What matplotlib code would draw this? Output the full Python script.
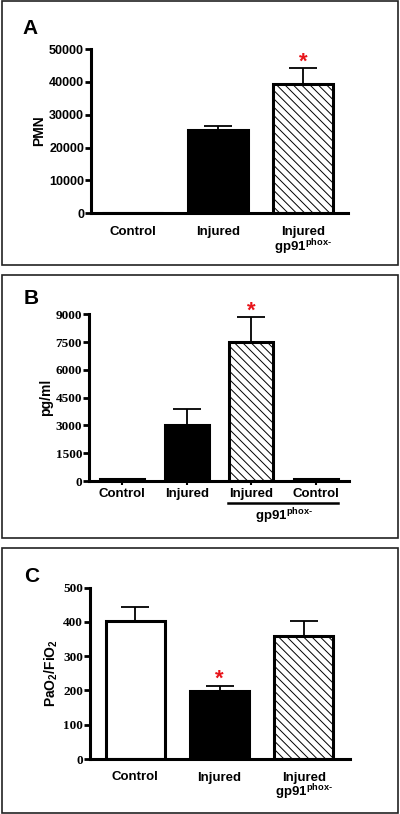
import matplotlib
matplotlib.use("Agg")
import matplotlib.pyplot as plt
from matplotlib.patches import Rectangle
from matplotlib.lines import Line2D

plt.rcParams['font.family'] = ['Liberation Sans', 'DejaVu Sans']
plt.rcParams['mathtext.fontset'] = 'custom'
plt.rcParams['mathtext.rm'] = 'Liberation Sans:bold'
plt.rcParams['mathtext.bf'] = 'Liberation Sans:bold'
plt.rcParams['mathtext.it'] = 'Liberation Sans:bold'
plt.rcParams['hatch.linewidth'] = 0.7

# ---- data ----
a_labels = ['Control', 'Injured', 'Injured\ngp91$^{\\text{phox-}}$']
a_values = [0, 25350, 39300]
a_errors = [0, 1100, 4800]
a_ticks = [0, 10000, 20000, 30000, 40000, 50000]

b_labels = ['Control', 'Injured', 'Injured', 'Control']
b_values = [130, 3050, 7500, 130]
b_errors = [0, 830, 1350, 0]
b_ticks = [0, 1500, 3000, 4500, 6000, 7500, 9000]

c_labels = ['Control', 'Injured', 'Injured\ngp91$^{\\text{phox-}}$']
c_values = [403, 199, 360]
c_errors = [41, 15, 42]
c_ticks = [0, 100, 200, 300, 400, 500]

W, H = 400, 814
fig = plt.figure(figsize=(W / 100, H / 100), dpi=100)


def fx(px):
    return px / W


def fy(py):
    return 1 - py / H


def box(top, bottom):
    fig.patches.append(Rectangle((fx(1.5), fy(bottom)), fx(396), (bottom - top) / H,
                                 transform=fig.transFigure, fill=False,
                                 edgecolor='#222222', linewidth=1.2))


def make_axes(left, right, top, bottom):
    return fig.add_axes([fx(left), fy(bottom), fx(right - left), (bottom - top) / H])


styles_3 = [dict(facecolor='white', hatch=None), dict(facecolor='black', hatch=None),
            dict(facecolor='white', hatch='\\\\\\\\')]


def draw(ax, values, errors, styles, width, xlim, ylim, ticks, tick_font, tick_size, stars, ylabel):
    x = list(range(len(values)))
    for i, (v, e, s) in enumerate(zip(values, errors, styles)):
        ax.bar(i, v, width=width, color=s['facecolor'], edgecolor='black',
               linewidth=2.2, hatch=s['hatch'], zorder=2)
        if e > 0:
            ax.errorbar(i, v, yerr=[[0], [e]], fmt='none', ecolor='black',
                        elinewidth=1.3, capsize=10, capthick=1.3, zorder=1)
    for i in stars:
        ax.annotate('*', (i, values[i] + errors[i]), xytext=(0, -3), textcoords='offset points',
                    ha='center', va='bottom', color='#e8141a', fontsize=16, fontweight='bold')
    ax.set_xlim(*xlim)
    ax.set_ylim(*ylim)
    ax.set_yticks(ticks)
    ax.set_yticklabels([str(t) for t in ticks], fontsize=tick_size, fontweight='bold', family=tick_font)
    for s in ['top', 'right']:
        ax.spines[s].set_visible(False)
    for s in ['left', 'bottom']:
        ax.spines[s].set_linewidth(2.2)
    ax.tick_params(axis='y', length=4, width=2, pad=1)
    ax.set_ylabel(ylabel, fontsize=10, fontweight='bold', labelpad=2)
    ax.set_facecolor('none')
    return x


# ---- Panel A ----
box(1, 265)
axA = make_axes(91, 348, 49, 213.3)
xa = draw(axA, a_values, a_errors, styles_3, 0.71, (-0.49, 2.53), (0, 50000), a_ticks,
          'Liberation Sans', 9, [2], 'PMN')
axA.set_xticks(xa)
axA.set_xticklabels(a_labels, fontsize=9.5, fontweight='bold', linespacing=0.95)
axA.tick_params(axis='x', length=0, pad=9)
fig.text(fx(22), fy(28), 'A', fontsize=15, fontweight='bold', va='center')

# ---- Panel B ----
box(275, 538)
axB = make_axes(89, 349, 314.3, 481)
b_styles = [dict(facecolor='black', hatch=None), dict(facecolor='black', hatch=None),
            dict(facecolor='white', hatch='\\\\\\\\'), dict(facecolor='black', hatch=None)]
xb = draw(axB, b_values, b_errors, b_styles, 0.68, (-0.51, 3.51), (0, 9000), b_ticks,
          'Liberation Serif', 9.5, [2], 'pg/ml')
axB.set_xticks(xb)
axB.set_xticklabels(b_labels, fontsize=9.5, fontweight='bold')
axB.tick_params(axis='x', length=3, width=1.5, pad=2)
axB.add_line(Line2D([1.64, 3.34], [-0.132, -0.132], color='black', linewidth=1.8,
                    transform=axB.get_xaxis_transform(), clip_on=False))
axB.text(2.5, -0.15, 'gp91$^{\\text{phox-}}$', transform=axB.get_xaxis_transform(),
         ha='center', va='top', fontsize=9.5, fontweight='bold')
fig.text(fx(24), fy(298), 'B', fontsize=15, fontweight='bold', va='center')

# ---- Panel C ----
box(548, 813)
axC = make_axes(90, 350, 587.7, 759)
xc = draw(axC, c_values, c_errors, styles_3, 0.70, (-0.54, 2.55), (0, 500), c_ticks,
          'Liberation Serif', 9.5, [1], 'PaO$_2$/FiO$_2$')
axC.set_xticks(xc)
axC.set_xticklabels(c_labels, fontsize=9.5, fontweight='bold', linespacing=0.95)
axC.tick_params(axis='x', length=0, pad=9)
fig.text(fx(24), fy(577), 'C', fontsize=15, fontweight='bold', va='center')

fig.savefig('out.png', dpi=100, facecolor='white')
